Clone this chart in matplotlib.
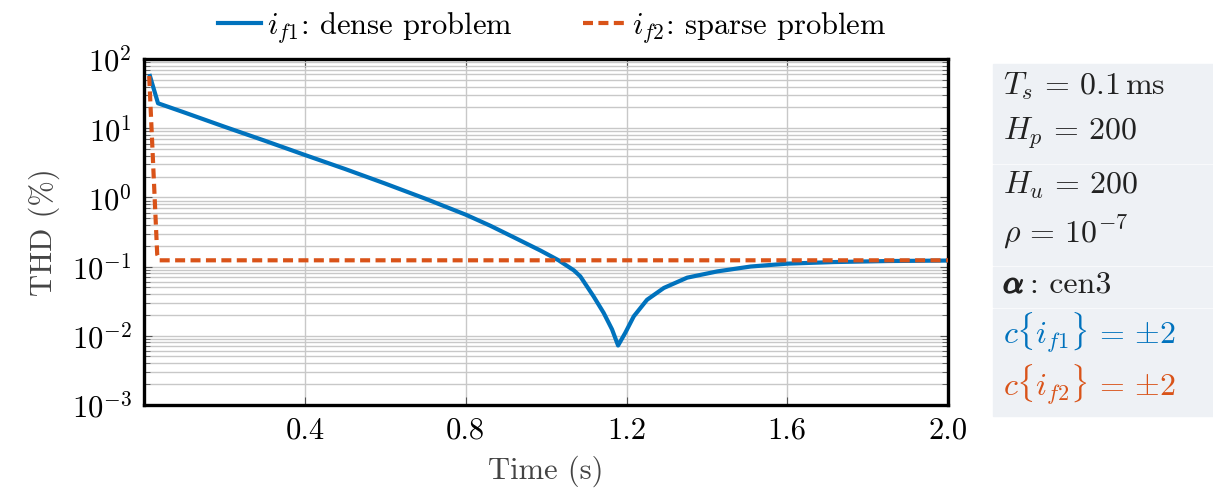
import numpy as np
import matplotlib
matplotlib.use('Agg')
import matplotlib.pyplot as plt
from matplotlib.patches import Rectangle
import matplotlib.patheffects as pe

plt.rcParams['font.family'] = 'serif'
plt.rcParams['font.serif'] = ['cmr10', 'DejaVu Serif']
plt.rcParams['mathtext.fontset'] = 'cm'
plt.rcParams['axes.formatter.use_mathtext'] = True

# data
t_dense = [0.014, 0.034, 0.1, 0.2, 0.3, 0.4, 0.5, 0.6, 0.7, 0.8, 0.861, 0.928,
           0.986, 1.031, 1.069, 1.085, 1.118, 1.143, 1.164, 1.179, 1.197, 1.218, 1.251,
           1.293, 1.351, 1.426, 1.509, 1.6, 1.716, 1.85, 2.0]
thd_dense = [57, 23, 16.9, 10.5, 6.6, 4.1, 2.57, 1.58, 0.955, 0.562, 0.389, 0.25,
             0.17, 0.123, 0.088, 0.072, 0.037, 0.0214, 0.0123, 0.0072, 0.011, 0.019, 0.033,
             0.049, 0.069, 0.085, 0.1, 0.11, 0.116, 0.12, 0.122]
t_sparse = [0.012, 0.032, 0.038, 2.0]
thd_sparse = [57, 0.15, 0.123, 0.123]

x_ticks = [0.4, 0.8, 1.2, 1.6, 2.0]
y_exps = [-3, -2, -1, 0, 1, 2]

table_rows = [r'$T_s\,=\,0.1\,\mathrm{ms}$', r'$H_p\,=\,200$', r'$H_u\,=\,200$',
              r'$\rho\,=\,10^{-7}$', None, r'$c\{i_{f1}\}\,=\,{\pm}2$', r'$c\{i_{f2}\}\,=\,{\pm}2$']

blue = '#0072BD'
orange = '#D95319'

fig = plt.figure(figsize=(12.13, 4.93), dpi=100)
ax = fig.add_axes([0.119, 0.179, 0.6625, 0.701])

ax.plot(t_dense, thd_dense, color=blue, lw=3, label=r'$i_{f1}$: dense problem', zorder=3)
ax.plot(t_sparse, thd_sparse, color=orange, lw=3, linestyle=(0, (2.4, 1.3)),
        label=r'$i_{f2}$: sparse problem', zorder=4)

ax.set_yscale('log')
ax.set_xlim(0, 2.0)
ax.set_ylim(1e-3, 1e2)
ax.set_xticks(x_ticks)
ax.set_xticklabels(['%.1f' % v for v in x_ticks])
ax.set_yticks([10.0 ** e for e in y_exps])
ax.set_yticklabels([r'$10^{%d}$' % e for e in y_exps])

ax.grid(True, which='major', axis='both', color='#c8c8c8', lw=1)
ax.grid(True, which='minor', axis='y', color='#c8c8c8', lw=1)
ax.tick_params(which='both', direction='in', top=True, right=True, labelsize=22, color='#555555')
ax.tick_params(which='major', length=6, pad=9)
ax.tick_params(which='minor', length=4)
for s in ax.spines.values():
    s.set_linewidth(2.4)

ax.set_xlabel('Time (s)', fontsize=22, color='#444444', labelpad=8)
ax.set_ylabel('THD (%)', fontsize=22, color='#444444', labelpad=8)

fig.legend(loc='upper center', bbox_to_anchor=(0.455, 1.035), ncol=2, frameon=False,
           fontsize=22, handlelength=1.4, handletextpad=0.2, columnspacing=2.3)

# parameter table on the right
x0, x1 = 993 / 1213, 1.0
edges = [62, 163, 265, 307, 416]
for top, bot in zip(edges[:-1], edges[1:]):
    fig.patches.append(Rectangle((x0, 1 - bot / 493), x1 - x0, (bot - top - 2) / 493,
                                 transform=fig.transFigure, color='#eef1f5', zorder=0))

row_y = [86, 133, 185, 232, 285, 333, 385]
colors = ['#222222'] * 5 + [blue, orange]
for txt, yy, c in zip(table_rows, row_y, colors):
    if txt is None:
        continue
    fig.text(1003 / 1213, 1 - yy / 493, txt, fontsize=23, color=c, va='center', ha='left')
fig.text(1003 / 1213, 1 - row_y[4] / 493, r'$\alpha$', fontsize=23, color='#222222',
         va='center', ha='left',
         path_effects=[pe.withStroke(linewidth=1.2, foreground='#222222')])
fig.text(1030 / 1213, 1 - row_y[4] / 493, ': cen3', fontsize=23, color='#222222',
         va='center', ha='left')

fig.savefig('out.png', dpi=100)
